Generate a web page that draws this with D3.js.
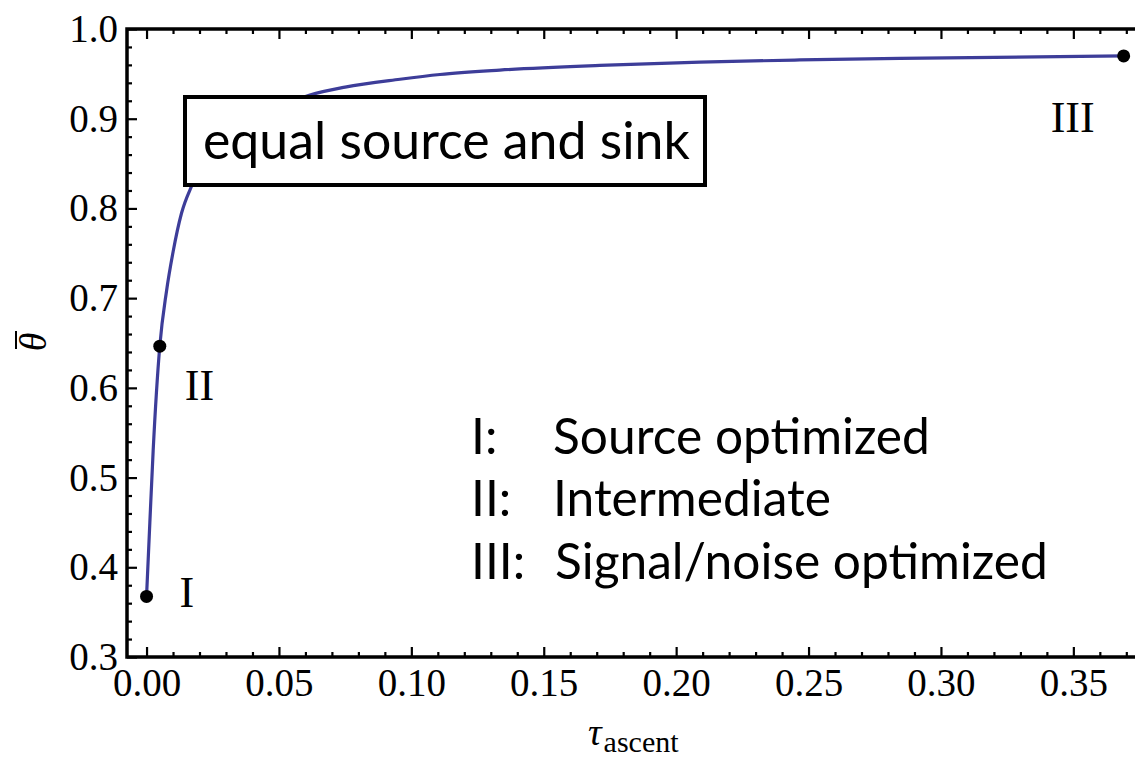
<!DOCTYPE html>
<html>
<head>
<meta charset="utf-8">
<script src="https://cdn.jsdelivr.net/npm/d3@7"></script>
<style>
  html, body { margin: 0; padding: 0; background: #fff; }
  svg { display: block; }
</style>
</head>
<body>
<svg id="chart" width="1135" height="758"></svg>
<script>
// ---------- data ----------
const tauValues   = [0, 0.00125, 0.0025, 0.005, 0.00755, 0.01005, 0.0132, 0.0170, 0.025, 0.035, 0.045, 0.0617, 0.075, 0.0957, 0.1108, 0.1334, 0.1712, 0.209, 0.2467, 0.2844, 0.369];
const thetaValues = [0.3675, 0.450, 0.530, 0.6465, 0.708, 0.752, 0.7946, 0.8248, 0.862, 0.888, 0.906, 0.9263, 0.9352, 0.944, 0.9493, 0.9542, 0.9594, 0.9631, 0.9655, 0.9673, 0.970];

const pointTau    = [0, 0.005, 0.369];
const pointTheta  = [0.3675, 0.6465, 0.970];
const pointLabels = ["I", "II", "III"];

const xMajorTicks = [0, 0.05, 0.10, 0.15, 0.20, 0.25, 0.30, 0.35];
const xMinorTicks = [0.01,0.02,0.03,0.04, 0.06,0.07,0.08,0.09, 0.11,0.12,0.13,0.14, 0.16,0.17,0.18,0.19, 0.21,0.22,0.23,0.24, 0.26,0.27,0.28,0.29, 0.31,0.32,0.33,0.34, 0.36,0.37];
const yMajorTicks = [0.3, 0.4, 0.5, 0.6, 0.7, 0.8, 0.9, 1.0];
const yMinorTicks = [0.32,0.34,0.36,0.38, 0.42,0.44,0.46,0.48, 0.52,0.54,0.56,0.58, 0.62,0.64,0.66,0.68, 0.72,0.74,0.76,0.78, 0.82,0.84,0.86,0.88, 0.92,0.94,0.96,0.98];

const boxText = "equal source and sink";
const legendKeys  = ["I:", "II:", "III:"];
const legendTexts = ["Source optimized", "Intermediate", "Signal/noise optimized"];

// ---------- layout ----------
const svg = d3.select("#chart");
const L = 127, T = 29, R = 1152, B = 657;
const x = d3.scaleLinear().domain([-0.00738, 0.37970]).range([L, R]);
const y = d3.scaleLinear().domain([0.3, 1.0]).range([B, T]);

const serif = "'Liberation Serif', 'Times New Roman', serif";
const sans  = "Lato, 'Open Sans', sans-serif";
const curveColor = "#3d3d99";

// ---------- curve ----------
const line = d3.line()
  .x((d, i) => x(tauValues[i]))
  .y((d, i) => y(thetaValues[i]))
  .curve(d3.curveMonotoneX);

svg.append("path")
  .datum(tauValues)
  .attr("d", line)
  .attr("fill", "none")
  .attr("stroke", curveColor)
  .attr("stroke-width", 3.2);

// ---------- axes (inward ticks on all four sides) ----------
function styleAxis(g) {
  g.select(".domain").remove();
  g.selectAll(".tick line").attr("stroke", "#000").attr("stroke-width", 2.2);
  g.selectAll(".tick text").attr("fill", "#000").attr("font-family", serif).attr("font-size", 39);
}
const fx = d3.format(".2f"), fy = d3.format(".1f");

svg.append("g").attr("transform", `translate(0,${B})`)
  .call(d3.axisBottom(x).tickValues(xMajorTicks).tickFormat(fx).tickSize(-10).tickPadding(11))
  .call(styleAxis);
svg.append("g").attr("transform", `translate(0,${B})`)
  .call(d3.axisBottom(x).tickValues(xMinorTicks).tickFormat("").tickSize(-5))
  .call(styleAxis);
svg.append("g").attr("transform", `translate(0,${T})`)
  .call(d3.axisTop(x).tickValues(xMajorTicks).tickFormat("").tickSize(-10))
  .call(styleAxis);
svg.append("g").attr("transform", `translate(0,${T})`)
  .call(d3.axisTop(x).tickValues(xMinorTicks).tickFormat("").tickSize(-5))
  .call(styleAxis);

svg.append("g").attr("transform", `translate(${L},0)`)
  .call(d3.axisLeft(y).tickValues(yMajorTicks).tickFormat(fy).tickSize(-10).tickPadding(9))
  .call(styleAxis);
svg.append("g").attr("transform", `translate(${L},0)`)
  .call(d3.axisLeft(y).tickValues(yMinorTicks).tickFormat("").tickSize(-5))
  .call(styleAxis);
svg.append("g").attr("transform", `translate(${R},0)`)
  .call(d3.axisRight(y).tickValues(yMajorTicks).tickFormat("").tickSize(-10))
  .call(styleAxis);
svg.append("g").attr("transform", `translate(${R},0)`)
  .call(d3.axisRight(y).tickValues(yMinorTicks).tickFormat("").tickSize(-5))
  .call(styleAxis);

// frame
svg.append("rect")
  .attr("x", L).attr("y", T).attr("width", R - L).attr("height", B - T)
  .attr("fill", "none").attr("stroke", "#000").attr("stroke-width", 3.5);

// ---------- boxed label ----------
const boxG = svg.append("g");
boxG.append("rect")
  .attr("x", 185).attr("y", 97).attr("width", 520).attr("height", 88)
  .attr("fill", "#fff").attr("stroke", "#000").attr("stroke-width", 4);
const bt = boxG.append("text")
  .attr("x", 203).attr("y", 159)
  .attr("font-family", sans).attr("font-size", 44).attr("fill", "#000")
  .text(boxText);
{
  const w = bt.node().getComputedTextLength();
  bt.attr("font-size", 44 * 487 / w);
}

// ---------- points ----------
svg.selectAll("circle.pt")
  .data(pointTau)
  .join("circle")
  .attr("class", "pt")
  .attr("cx", d => x(d))
  .attr("cy", (d, i) => y(pointTheta[i]))
  .attr("r", 6.5)
  .attr("fill", "#000");

const labelOffsets = [[33, 11, "start"], [25, 54, "start"], [-29, 76, "end"]];
svg.selectAll("text.ptlabel")
  .data(pointLabels)
  .join("text")
  .attr("class", "ptlabel")
  .attr("x", (d, i) => x(pointTau[i]) + labelOffsets[i][0])
  .attr("y", (d, i) => y(pointTheta[i]) + labelOffsets[i][1])
  .attr("text-anchor", (d, i) => labelOffsets[i][2])
  .attr("font-family", serif).attr("font-size", 44).attr("fill", "#000")
  .text(d => d);

// ---------- legend text ----------
const legendBaselines = [454, 516, 579];
const legG = svg.append("g");
const legKeys = legG.selectAll("text.k").data(legendKeys).join("text")
  .attr("class", "k")
  .attr("x", 471).attr("y", (d, i) => legendBaselines[i])
  .attr("font-family", sans).attr("font-size", 48).attr("fill", "#000")
  .text(d => d);
const legVals = legG.selectAll("text.v").data(legendTexts).join("text")
  .attr("class", "v")
  .attr("x", (d, i) => i === 2 ? 555 : 553).attr("y", (d, i) => legendBaselines[i])
  .attr("font-family", sans).attr("font-size", 48).attr("fill", "#000")
  .text(d => d);
{
  const w = legVals.filter((d, i) => i === 2).node().getComputedTextLength();
  const fs = 48 * 493 / w;
  legKeys.attr("font-size", fs);
  legVals.attr("font-size", fs);
}

// ---------- axis titles ----------
const xl = svg.append("text")
  .attr("x", 588).attr("y", 745)
  .attr("font-family", serif).attr("fill", "#000");
xl.append("tspan").attr("font-style", "italic").attr("font-size", 38).text("τ");
xl.append("tspan").attr("font-size", 30).attr("dy", 7).attr("dx", 2).text("ascent");

const yl = svg.append("g").attr("transform", "translate(46,342) rotate(-90)");
yl.append("text")
  .attr("x", 0).attr("y", 0)
  .attr("text-anchor", "middle")
  .attr("font-family", serif).attr("font-style", "italic").attr("font-size", 38)
  .attr("fill", "#000")
  .text("θ");
yl.append("line")
  .attr("x1", -7).attr("x2", 11).attr("y1", -30).attr("y2", -30)
  .attr("stroke", "#000").attr("stroke-width", 2);
</script>
</body>
</html>
